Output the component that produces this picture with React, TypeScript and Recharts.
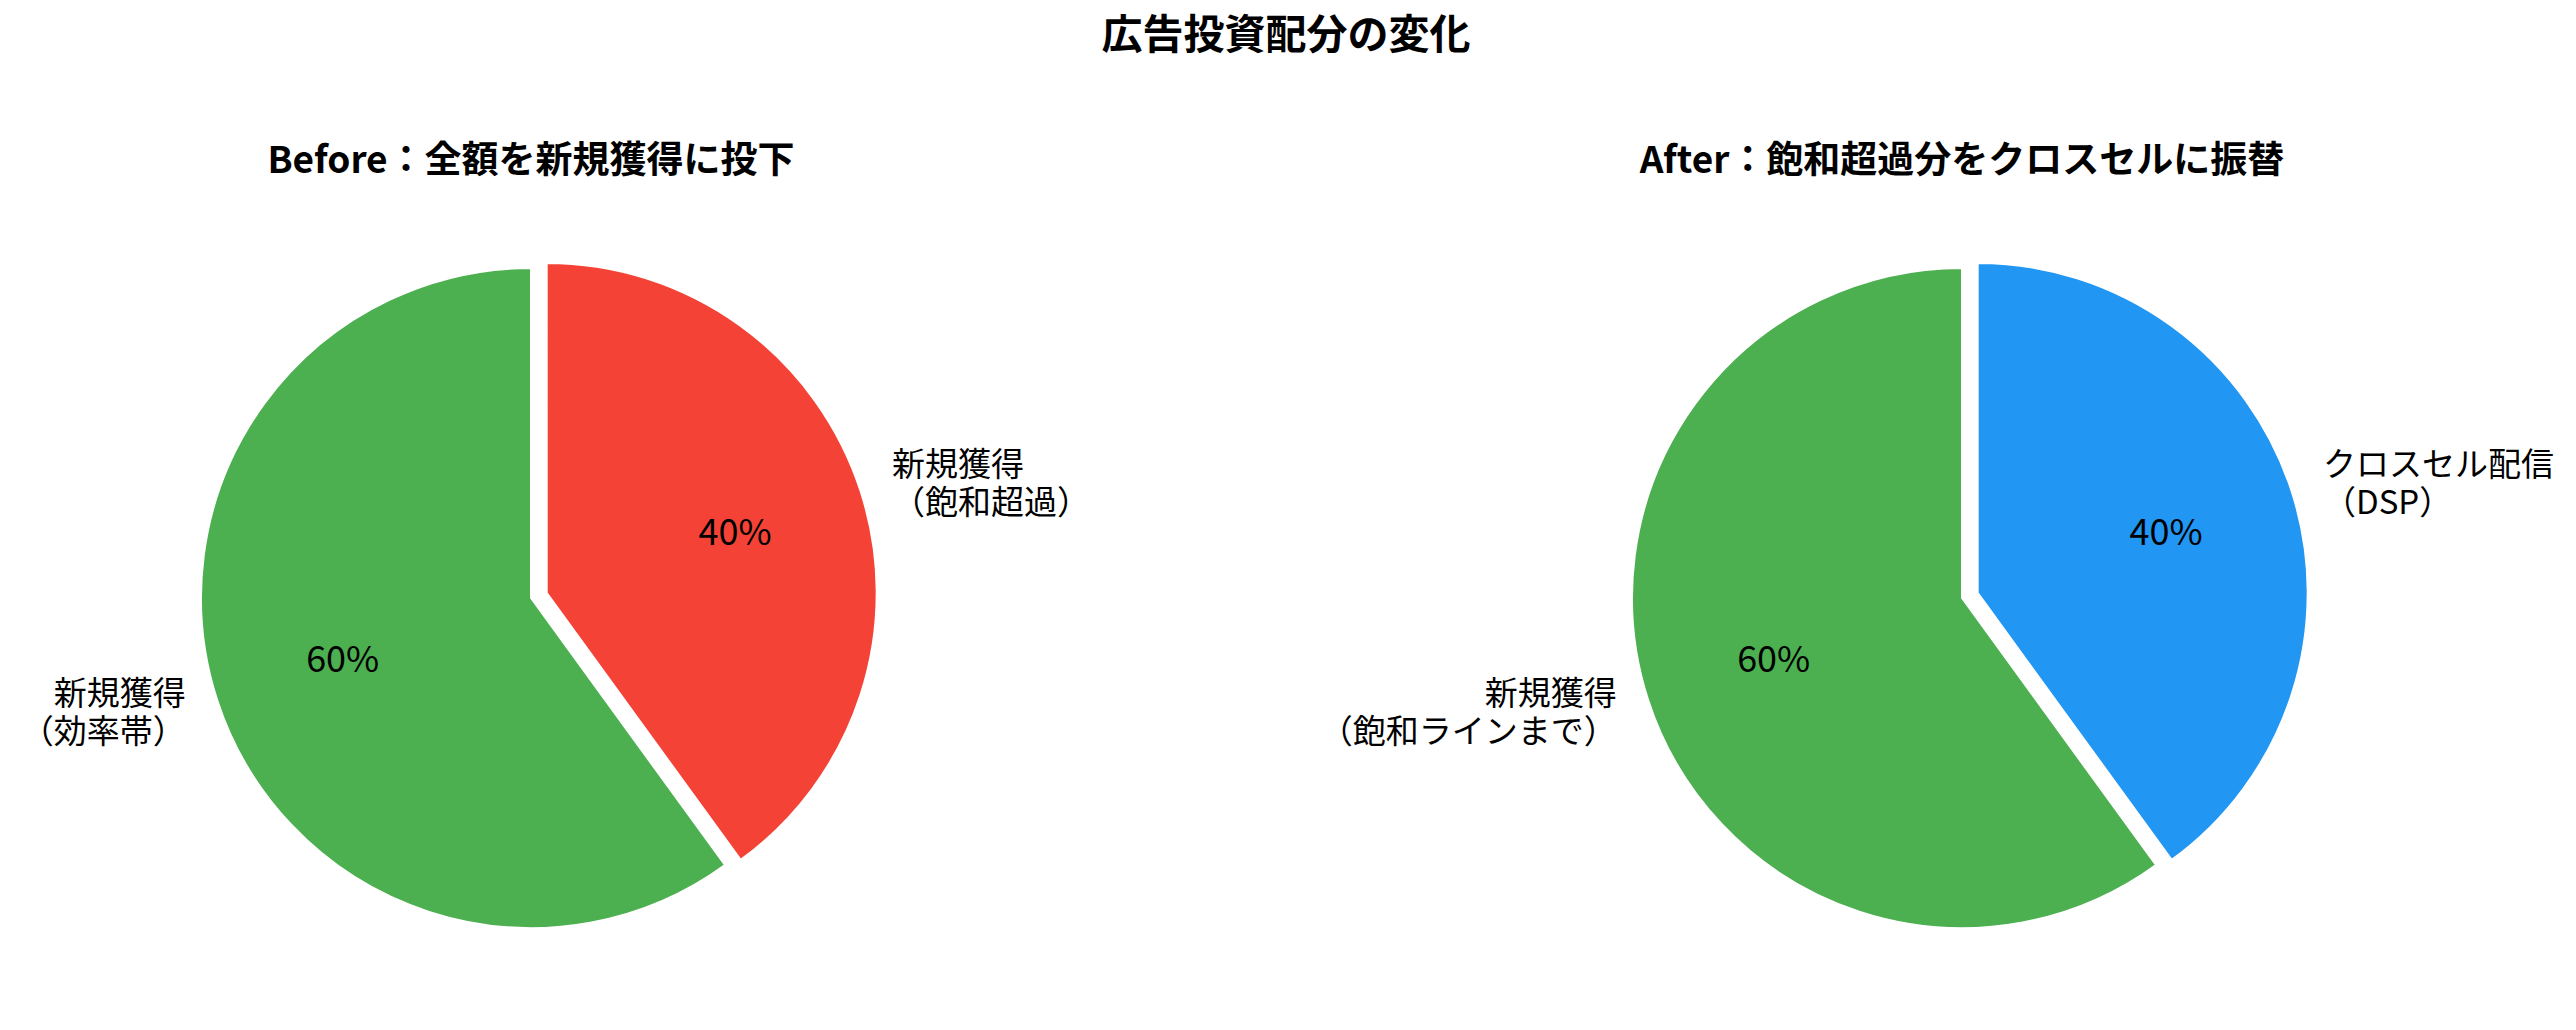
import { PieChart, Pie, Cell } from "recharts";

// 投資配分（%）
const beforeNames = ["新規獲得\n（効率帯）", "新規獲得\n（飽和超過）"];
const beforeValues = [60, 40];
const beforeColors = ["#4CAF50", "#F44336"];

const afterNames = ["新規獲得\n（飽和ラインまで）", "クロスセル配信\n（DSP）"];
const afterValues = [60, 40];
const afterColors = ["#4CAF50", "#2196F3"];

const explode = [0, 0.05];

const W = 2576;
const H = 1030;
const R = 330;
const CY = 598;
const FONT = '"Noto Sans CJK JP", "Noto Sans", sans-serif';
const LINE_H = 38;
const RAD = Math.PI / 180;

const toData = (names: string[], values: number[]) =>
    names.map((name, i) => ({ name, value: values[i] }));

// mid angle of each slice (start at 12 o'clock, clockwise via 450)
const midAngles = (values: number[]) => {
    const total = values.reduce((a, b) => a + b, 0);
    let cum = 0;
    return values.map((v) => {
        const m = 90 + (360 * (cum + v / 2)) / total;
        cum += v;
        return m;
    });
};

const renderLabel = (shown: number) => (props: any) => {
    const { cx, cy, midAngle, outerRadius, percent, index, name } = props;
    if (index !== shown) return <g />;
    const cos = Math.cos(-midAngle * RAD);
    const sin = Math.sin(-midAngle * RAD);
    const lx = cx + outerRadius * 1.1 * cos;
    const ly = cy + outerRadius * 1.1 * sin;
    const px = cx + outerRadius * 0.6 * cos;
    const py = cy + outerRadius * 0.6 * sin;
    const lines = String(name).split("\n");
    return (
        <g>
            <text
                x={px}
                y={py - 3}
                textAnchor="middle"
                dominantBaseline="central"
                fill="#000"
                style={{ fontFamily: FONT, fontSize: 36 }}
            >
                {`${Math.round(percent * 100)}%`}
            </text>
            <text
                x={lx}
                y={ly - ((lines.length - 1) / 2) * LINE_H}
                textAnchor={cos >= 0 ? "start" : "end"}
                dominantBaseline="central"
                fill="#000"
                style={{ fontFamily: FONT, fontSize: 33 }}
            >
                {lines.map((l, k) => (
                    <tspan key={k} x={lx} dy={k === 0 ? 0 : LINE_H}>
                        {l}
                    </tspan>
                ))}
            </text>
        </g>
    );
};

const renderPies = (key: string, cx: number, names: string[], values: number[], colors: string[]) => {
    const data = toData(names, values);
    const mids = midAngles(values);
    return values.map((_, i) => {
        const off = explode[i] * R;
        return (
            <Pie
                key={`${key}-${i}`}
                data={data}
                dataKey="value"
                nameKey="name"
                cx={cx + off * Math.cos(-mids[i] * RAD)}
                cy={CY + off * Math.sin(-mids[i] * RAD)}
                outerRadius={R}
                startAngle={90}
                endAngle={450}
                label={renderLabel(i)}
                labelLine={false}
                isAnimationActive={false}
            >
                {data.map((_, j) => (
                    <Cell
                        key={j}
                        fill={j === i ? colors[j] : "none"}
                        stroke={j === i ? "#fff" : "none"}
                        strokeWidth={2}
                    />
                ))}
            </Pie>
        );
    });
};

const titleStyle = (x: number, y: number, size: number): React.CSSProperties => ({
    position: "absolute",
    left: x - 600,
    width: 1200,
    top: y - size * 0.7,
    textAlign: "center",
    fontFamily: FONT,
    fontWeight: 700,
    fontSize: size,
    lineHeight: `${size * 1.4}px`,
    color: "#000",
});

export default function App() {
    return (
        <div style={{ position: "relative", width: W, height: H, background: "#fff" }}>
            <style>{"body{margin:0;background:#fff}"}</style>
            <PieChart width={W} height={H} margin={{ top: 0, right: 0, bottom: 0, left: 0 }}>
                {renderPies("before", 531, beforeNames, beforeValues, beforeColors)}
                {renderPies("after", 1962, afterNames, afterValues, afterColors)}
            </PieChart>
            <div style={titleStyle(1286, 32, 41)}>広告投資配分の変化</div>
            <div style={titleStyle(531, 158, 37)}>Before：全額を新規獲得に投下</div>
            <div style={titleStyle(1962, 158, 37)}>After：飽和超過分をクロスセルに振替</div>
        </div>
    );
}
